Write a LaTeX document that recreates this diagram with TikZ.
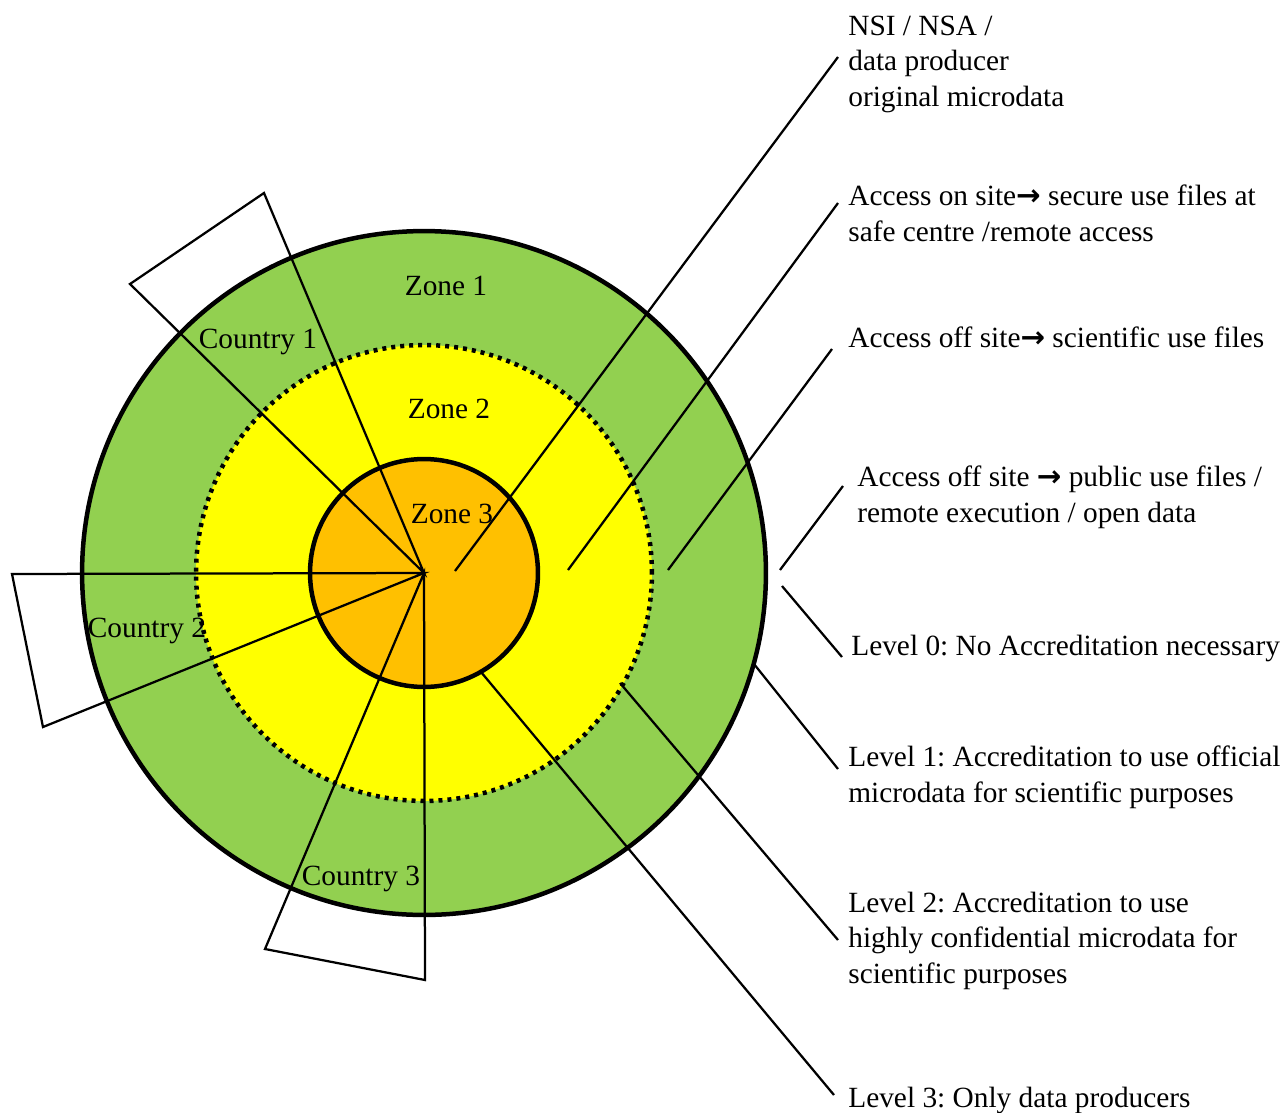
\documentclass[tikz,border=0pt]{standalone}
\usepackage{fontspec}
\setmainfont{Liberation Serif}
\newfontfamily\arrowfont{DejaVu Sans}
\newcommand{\toarrow}{{\arrowfont\bfseries →}}
\frenchspacing
\definecolor{zonegreen}{RGB}{146,208,80}
\definecolor{zoneyellow}{RGB}{255,255,0}
\definecolor{zoneorange}{RGB}{255,192,0}
\tikzset{
  zonelabel/.style={inner sep=0pt, anchor=base, font=\fontsize{16.7}{20.2}\selectfont},
  sidelabel/.style={inner sep=0pt, anchor=base west, align=left, font=\fontsize{16.7}{20.2}\selectfont},
  ring/.style={line width=0.09cm},
  leader/.style={line width=0.045cm},
}
\begin{document}
\begin{tikzpicture}[x=0.02cm, y=-0.02cm]
                \useasboundingbox (0,0) rectangle (1284,1112);
                \coordinate (C) at (424,573);
                % the three zones
                \filldraw[fill=zonegreen, ring] (C) circle[radius=6.84cm];
                \fill[zoneyellow] (C) circle[radius=4.56cm];
                \draw[ring, dash pattern=on 0.08cm off 0.1cm] (C) circle[radius=4.56cm];
                \filldraw[fill=zoneorange, ring] (C) circle[radius=2.28cm];
                % country sectors
                \coordinate (k1a) at (264,193);
                \coordinate (k1b) at (130,284);
                \coordinate (k2a) at (12,574);
                \coordinate (k2b) at (43,727);
                \coordinate (k3a) at (265,949);
                \coordinate (k3b) at (425,980);
                \draw[leader] (C) -- (k1a) -- (k1b) -- cycle;
                \draw[leader] (C) -- (k2a) -- (k2b) -- cycle;
                \draw[leader] (C) -- (k3a) -- (k3b) -- cycle;
                \node[zonelabel] (z1) at (446,295) {Zone 1};
                \node[zonelabel] (z2) at (449,418) {Zone 2};
                \node[zonelabel] (z3) at (452,523) {Zone 3};
                \node[zonelabel] (c1) at (258,348) {Country 1};
                \node[zonelabel] (c2) at (147,637) {Country 2};
                \node[zonelabel] (c3) at (361,885) {Country 3};
                % texts on the right (base = last line)
                \node[sidelabel] (t1) at (848,106) {NSI / NSA /\\data producer\\original microdata};
                \node[sidelabel] (t2) at (848,241) {Access on site\toarrow{} secure use files at\\safe centre /remote access};
                \node[sidelabel] (t3) at (848,347) {Access off site\toarrow{} scientific use files};
                \node[sidelabel] (t4) at (857,522) {Access off site \toarrow{} public use files /\\remote execution / open data};
                \node[sidelabel] (t5) at (851,655) {Level 0: No Accreditation necessary};
                \node[sidelabel] (t6) at (848,802) {Level 1: Accreditation to use official\\microdata for scientific purposes};
                \node[sidelabel] (t7) at (848,983) {Level 2: Accreditation to use\\highly confidential microdata for\\scientific purposes};
                \node[sidelabel] (t8) at (848,1107) {Level 3: Only data producers};
                % leader lines
                \coordinate (a1) at (455,571);  \coordinate (b1) at (838,57);
                \coordinate (a2) at (568,570);  \coordinate (b2) at (838,203);
                \coordinate (a3) at (668,570);  \coordinate (b3) at (832,349);
                \coordinate (a4) at (780,570);  \coordinate (b4) at (843,486);
                \coordinate (a5) at (782,586);  \coordinate (b5) at (842,657);
                \coordinate (a6) at (754,664);  \coordinate (b6) at (838,769);
                \coordinate (a7) at (620,683);  \coordinate (b7) at (838,940);
                \coordinate (a8) at (481,672);  \coordinate (b8) at (834,1095);
                \foreach \i in {1,...,8}
                  \draw[leader] (a\i) -- (b\i);
                \end{tikzpicture}
\end{document}
